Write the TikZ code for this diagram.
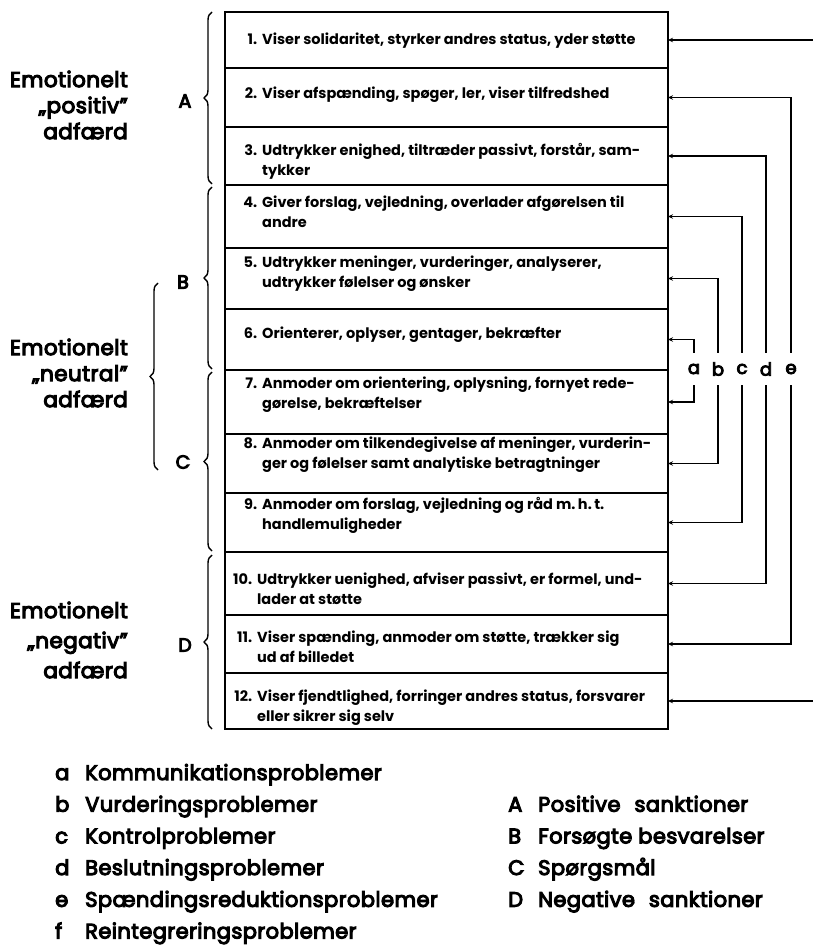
\documentclass[tikz,border=0pt]{standalone}
\usepackage{fontspec}
\setmainfont{Poppins}
\newfontfamily\labelfont{Poppins}[FakeBold=5, LetterSpace=2]
\usetikzlibrary{decorations.pathreplacing,arrows.meta}

% number column with hanging indent for the category texts
\newcommand\rnum[1]{\makebox[20pt][r]{#1}\hspace{5pt}}
\newcommand\rcont{\hspace*{25pt}}
\newcommand\lkey[1]{\makebox[30pt][l]{#1}}

\tikzset{
  rowbox/.style={draw, line width=1.7pt, minimum width=443pt, inner sep=0pt, outer sep=0pt},
  rowtext/.style={anchor=west, align=left, inner sep=0pt, font=\fontsize{14.5}{20}\selectfont\bfseries},
  grouplabel/.style={anchor=east, align=right, inner sep=0pt, font=\labelfont\fontsize{21.5}{26}\selectfont},
  bracelabel/.style={inner sep=0pt, font=\labelfont\fontsize{19}{20}\selectfont},
  curly/.style={decorate, decoration={brace, amplitude=8pt}, line width=1.4pt},
  link/.style={line width=1.4pt, {Stealth[length=5pt,width=4.5pt]}-},
  linklabel/.style={minimum height=32pt, inner sep=0pt, font=\labelfont\fontsize{18}{20}\selectfont},
  legend/.style={anchor=base west, inner sep=0pt, font=\labelfont\fontsize{21}{24}\selectfont},
}

\begin{document}
\begin{tikzpicture}[x=1pt, y=-1pt]
\useasboundingbox (0,0) rectangle (812,947);

% the twelve categories
\node[rowbox, minimum height=56pt] (r1)  at (446.5,40)    {};
\node[rowbox, minimum height=59pt] (r2)  at (446.5,97.5)  {};
\node[rowbox, minimum height=58pt] (r3)  at (446.5,156)   {};
\node[rowbox, minimum height=63pt] (r4)  at (446.5,216.5) {};
\node[rowbox, minimum height=61pt] (r5)  at (446.5,278.5) {};
\node[rowbox, minimum height=61pt] (r6)  at (446.5,339.5) {};
\node[rowbox, minimum height=64pt] (r7)  at (446.5,402)   {};
\node[rowbox, minimum height=59pt] (r8)  at (446.5,463.5) {};
\node[rowbox, minimum height=59pt] (r9)  at (446.5,522.5) {};
\node[rowbox, minimum height=63pt] (r10) at (446.5,583.5) {};
\node[rowbox, minimum height=58pt] (r11) at (446.5,644)   {};
\node[rowbox, minimum height=56pt] (r12) at (446.5,701)   {};

\node[rowtext] (t1)  at (237,41)  {\rnum{1.}Viser solidaritet, styrker andres status, yder støtte};
\node[rowtext] (t2)  at (237,95)  {\rnum{2.}Viser afspænding, spøger, ler, viser tilfredshed};
\node[rowtext] (t3)  at (237,161) {\rnum{3.}Udtrykker enighed, tiltræder passivt, forstår, sam-\\\rcont tykker};
\node[rowtext] (t4)  at (237,212) {\rnum{4.}Giver forslag, vejledning, overlader afgørelsen til\\\rcont andre};
\node[rowtext] (t5)  at (237,274) {\rnum{5.}Udtrykker meninger, vurderinger, analyserer,\\\rcont udtrykker følelser og ønsker};
\node[rowtext] (t6)  at (237,335) {\rnum{6.}Orienterer, oplyser, gentager, bekræfter};
\node[rowtext] (t7)  at (237,395) {\rnum{7.}Anmoder om orientering, oplysning, fornyet rede-\\\rcont gørelse, bekræftelser};
\node[rowtext] (t8)  at (237,455) {\rnum{8.}Anmoder om tilkendegivelse af meninger, vurderin-\\\rcont ger og følelser samt analytiske betragtninger};
\node[rowtext] (t9)  at (237,515) {\rnum{9.}Anmoder om forslag, vejledning og råd m.\,h.\,t.\\\rcont handlemuligheder};
\node[rowtext] (t10) at (232,589) {\rnum{10.}Udtrykker uenighed, afviser passivt, er formel, und-\\\rcont lader at støtte};
\node[rowtext] (t11) at (232,647) {\rnum{11.}Viser spænding, anmoder om støtte, trækker sig\\\rcont ud af billedet};
\node[rowtext] (t12) at (232,708) {\rnum{12.}Viser fjendtlighed, forringer andres status, forsvarer\\\rcont eller sikrer sig selv};

% braces A-D and the outer brace for the neutral group
\draw[curly] (212,184) -- (212,12);
\draw[curly] (212,369) -- (212,187);
\draw[curly] (212,551) -- (212,372);
\draw[curly] (212,729) -- (212,555);
\draw[curly] (158,470) -- (158,283);

\node[bracelabel] (lA) at (185,101) {A};
\node[bracelabel] (lB) at (183,282) {B};
\node[bracelabel] (lC) at (183,462) {C};
\node[bracelabel] (lD) at (185,645) {D};

\node[grouplabel] (gpos) at (128,105) {Emotionelt\\„positiv”\\adfærd};
\node[grouplabel] (gneu) at (128,373) {Emotionelt\\„neutral”\\adfærd};
\node[grouplabel, font=\labelfont\fontsize{21.5}{30}\selectfont] (gneg) at (128,640) {Emotionelt\\„negativ”\\adfærd};

% problem links between paired categories
\node[linklabel] (la) at (694,369) {a};
\node[linklabel] (lb) at (718,369) {b};
\node[linklabel] (lc) at (742,369) {c};
\node[linklabel] (ld) at (766,369) {d};
\node[linklabel] (le) at (791,369) {e};
\coordinate (lf) at (818,369);

\draw[link] (r6.east) -| (la.north);
\draw[link] (r7.east) -| (la.south);
\draw[link] (r5.east) -| (lb.north);
\draw[link] (r8.east) -| (lb.south);
\draw[link] (r4.east) -| (lc.north);
\draw[link] (r9.east) -| (lc.south);
\draw[link] (r3.east) -| (ld.north);
\draw[link] (r10.east) -| (ld.south);
\draw[link] (r2.east) -| (le.north);
\draw[link] (r11.east) -| (le.south);
\draw[link] (r1.east) -| (lf);
\draw[link] (r12.east) -| (lf);

% legends
\node[legend] (ka) at (55,780)   {\lkey{a}Kommunikationsproblemer};
\node[legend] (kb) at (55,811.7) {\lkey{b}Vurderingsproblemer};
\node[legend] (kc) at (55,843.4) {\lkey{c}Kontrolproblemer};
\node[legend] (kd) at (55,875)   {\lkey{d}Beslutningsproblemer};
\node[legend] (ke) at (55,906.8) {\lkey{e}Spændingsreduktionsproblemer};
\node[legend] (kf) at (55,938.5) {\lkey{f}Reintegreringsproblemer};

\node[legend] (kA) at (508,811.7) {\lkey{A}Positive\hspace{8pt} sanktioner};
\node[legend] (kB) at (508,843.4) {\lkey{B}Forsøgte besvarelser};
\node[legend] (kC) at (508,875)   {\lkey{C}Spørgsmål};
\node[legend] (kD) at (508,906.8) {\lkey{D}Negative\hspace{8pt} sanktioner};
\end{tikzpicture}
\end{document}
